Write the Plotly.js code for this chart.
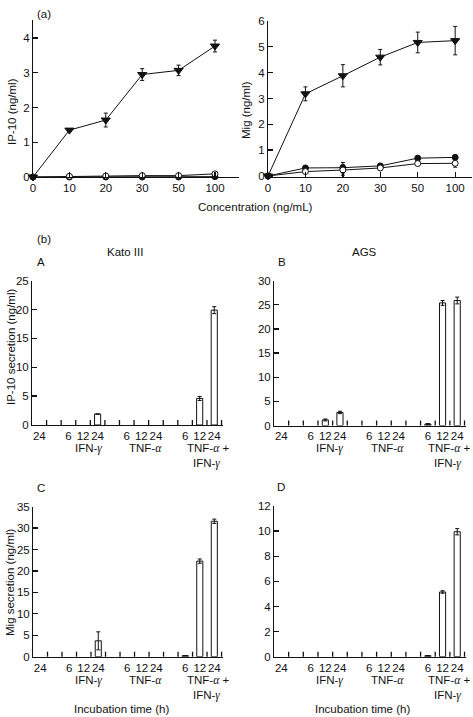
<!DOCTYPE html>
<html>
<head>
<meta charset="utf-8">
<script src="https://cdn.plot.ly/plotly-3.0.1.min.js"></script>
<style>
html,body{margin:0;padding:0;background:#fff;}
#chart{width:473px;height:717px;}
</style>
</head>
<body>
<div id="chart"></div>
<script>
// ---------- DATA ----------
// Panel (a): concentration series
const concLabels = ['0', '10', '20', '30', '50', '100'];
const ip10Tri = [0, 1.35, 1.64, 2.95, 3.07, 3.77];
const ip10TriErr = [0, 0.04, 0.2, 0.17, 0.15, 0.17];
const ip10Open = [0, 0.02, 0.03, 0.04, 0.04, 0.09];
const ip10Filled = [0, 0, 0, 0, 0, 0.01];
const migTri = [0, 3.18, 3.88, 4.6, 5.17, 5.24];
const migTriErr = [0, 0.27, 0.43, 0.3, 0.4, 0.55];
const migFilled = [0, 0.31, 0.32, 0.39, 0.69, 0.72];
const migFilledErr = [0, 0.05, 0.2, 0.05, 0.08, 0.08];
const migOpen = [0, 0.17, 0.23, 0.31, 0.48, 0.49];
const migOpenErr = [0, 0.05, 0.2, 0.05, 0.05, 0.15];

// Panel (b): incubation time bars
const groupNames = ['', 'IFN-γ', 'TNF-α', 'TNF-α + IFN-γ'];
const groupTimes = [['24'], ['6', '12', '24'], ['6', '12', '24'], ['6', '12', '24']];
const kato_ip10 = [0, 0, 0, 1.9, 0, 0, 0, 0, 4.6, 19.9];
const kato_ip10Err = [0, 0, 0, 0, 0, 0, 0, 0, 0.35, 0.6];
const ags_ip10 = [0, 0, 1.15, 2.7, 0, 0, 0, 0.3, 25.4, 25.9];
const ags_ip10Err = [0, 0, 0.2, 0.25, 0, 0, 0, 0.1, 0.5, 0.7];
const kato_mig = [0, 0, 0, 3.7, 0, 0, 0, 0.25, 22.3, 31.6];
const kato_migErr = [0, 0, 0, 2.1, 0, 0, 0, 0, 0.5, 0.5];
const ags_mig = [0, 0, 0, 0, 0, 0, 0, 0.08, 5.15, 9.95];
const ags_migErr = [0, 0, 0, 0, 0, 0, 0, 0, 0.1, 0.25];

// ---------- BUILD ----------
const W = 473, H = 717;
const INK = '#111';
const FONT = 'Liberation Sans, Arial, sans-serif';
const FS = 11.5;
const TL = 5;

const concX = concLabels.map((_, i) => i);

// slot positions: groups separated by one empty slot
const slotX = [], slotText = [];
let pos = 0;
groupTimes.forEach((times) => {
  times.forEach(t => { slotX.push(pos); slotText.push(t); pos++; });
  pos++;
});
const lastSlot = pos - 2;
const dividerX = [];
for (let v = 0.5; v <= lastSlot + 0.5; v += 1) dividerX.push(v);

function lineTrace(y, err, xa, ya, symbol, fill, size) {
  return {
    type: 'scatter', mode: 'lines+markers', x: concX, y: y,
    xaxis: xa, yaxis: ya, cliponaxis: false,
    line: {color: INK, width: 1},
    marker: {symbol: symbol, size: size, color: fill, line: {color: INK, width: 1}},
    error_y: err ? {type: 'data', array: err, visible: true, color: INK, thickness: 1, width: 2} : {visible: false},
    showlegend: false
  };
}
function barTrace(y, err, xa, ya) {
  return {
    type: 'bar', x: slotX, y: y.map(v => v === 0 ? null : v), xaxis: xa, yaxis: ya, width: 0.42,
    marker: {color: '#fff', line: {color: INK, width: 1}},
    error_y: {type: 'data', array: err, visible: true, color: INK, thickness: 1, width: 2},
    showlegend: false
  };
}

const traces = [
  lineTrace(ip10Filled, null, 'x', 'y', 'circle', INK, 6),
  lineTrace(ip10Open, null, 'x', 'y', 'circle', '#fff', 6),
  lineTrace(ip10Tri, ip10TriErr, 'x', 'y', 'triangle-down', INK, 8),
  lineTrace(migFilled, migFilledErr, 'x2', 'y2', 'circle', INK, 6),
  lineTrace(migOpen, migOpenErr, 'x2', 'y2', 'circle', '#fff', 6),
  lineTrace(migTri, migTriErr, 'x2', 'y2', 'triangle-down', INK, 8),
  barTrace(kato_ip10, kato_ip10Err, 'x3', 'y3'),
  barTrace(ags_ip10, ags_ip10Err, 'x4', 'y4'),
  barTrace(kato_mig, kato_migErr, 'x5', 'y5'),
  barTrace(ags_mig, ags_migErr, 'x6', 'y6')
];

function dx(a, b) { return [a / W, b / W]; }
function dy(top, bottom) { return [1 - bottom / H, 1 - top / H]; }

const baseAxis = {
  showline: true, linecolor: INK, linewidth: 1, mirror: false,
  ticks: 'inside', ticklen: TL, tickwidth: 1.3, tickcolor: INK, tickangle: 0,
  showgrid: false, zeroline: false, fixedrange: true, layer: 'above traces',
  tickfont: {family: FONT, size: FS, color: INK}
};
function ax(extra) { return Object.assign({}, baseAxis, extra); }

function barX(domain, anchor) {
  return ax({
    domain: domain, anchor: anchor, range: [-0.5, 12.6],
    tickmode: 'array', tickvals: slotX, ticktext: slotText, ticks: ''
  });
}

const layout = {
  width: W, height: H, margin: {l: 0, r: 0, t: 0, b: 0},
  paper_bgcolor: '#fff', plot_bgcolor: '#fff',
  font: {family: FONT, size: FS, color: INK},
  bargap: 0,
  xaxis: ax({domain: dx(33, 239), anchor: 'y', range: [0, 5.66], tickmode: 'array', tickvals: concX, ticktext: concLabels}),
  yaxis: ax({domain: dy(20, 177), anchor: 'x', range: [0, 4.52], tickmode: 'array', tickvals: [0, 1, 2, 3, 4]}),
  xaxis2: ax({domain: dx(268, 472), anchor: 'y2', range: [0, 5.45], tickmode: 'array', tickvals: concX, ticktext: concLabels}),
  yaxis2: ax({domain: dy(21, 177), anchor: 'x2', range: [-0.04, 6], tickmode: 'array', tickvals: [0, 1, 2, 3, 4, 5, 6]}),
  xaxis3: barX(dx(32, 223), 'y3'),
  yaxis3: ax({domain: dy(280.7, 425), anchor: 'x3', range: [0, 25], tickmode: 'linear', tick0: 0, dtick: 5}),
  xaxis4: barX(dx(274, 466), 'y4'),
  yaxis4: ax({domain: dy(280.7, 425.5), anchor: 'x4', range: [0, 30], tickmode: 'linear', tick0: 0, dtick: 5}),
  xaxis5: barX(dx(33, 223), 'y5'),
  yaxis5: ax({domain: dy(506.7, 656.7), anchor: 'x5', range: [0, 35], tickmode: 'linear', tick0: 0, dtick: 5}),
  xaxis6: barX(dx(274, 466), 'y6'),
  yaxis6: ax({domain: dy(506, 656.7), anchor: 'x6', range: [0, 12], tickmode: 'linear', tick0: 0, dtick: 2}),
  annotations: [],
  shapes: []
};

// divider tick marks between the bar slots (axis decoration)
[['x3', 'y3', 144.3], ['x4', 'y4', 144.8], ['x5', 'y5', 150], ['x6', 'y6', 150.7]].forEach(([xa, ya, hpx]) => {
  dividerX.forEach(v => {
    layout.shapes.push({
      type: 'line', xref: xa, yref: ya + ' domain', x0: v, x1: v, y0: 0, y1: TL / hpx,
      line: {color: INK, width: 1.3}, layer: 'above'
    });
  });
});

function greek(s) {
  return s.replace(/([αγ])/g, '<span style="font-family:\'Liberation Serif\',serif;font-style:italic">$1</span>');
}
function note(text, x, y, opts) {
  layout.annotations.push(Object.assign({
    text: text, x: x / W, y: 1 - y / H, xref: 'paper', yref: 'paper',
    showarrow: false, xanchor: 'center', yanchor: 'middle',
    font: {family: FONT, size: FS, color: INK}
  }, opts || {}));
}

note('(a)', 35, 14, {xanchor: 'left'});
note('Concentration (ng/mL)', 255, 207);
note('IP-10 (ng/ml)', 12, 112, {textangle: -90});
note('Mig (ng/ml)', 246, 110, {textangle: -90});
note('(b)', 35, 239, {xanchor: 'left'});
note('Kato III', 125, 252);
note('AGS', 364, 252);
note('A', 35, 262, {xanchor: 'left'});
note('B', 276, 262, {xanchor: 'left'});
note('C', 35, 488, {xanchor: 'left'});
note('D', 275, 487, {xanchor: 'left'});
note('IP-10 secretion (ng/ml)', 11, 347, {textangle: -90});
note('Mig secretion (ng/ml)', 10, 582, {textangle: -90});

// group labels under bar panels
const groupLabelX = {left: [88, 145, 206], right: [329.5, 387, 447]};
[[448, 'left'], [448, 'right'], [680, 'left'], [680, 'right']].forEach(([y0, side]) => {
  groupNames.slice(1).forEach((g, i) => {
    const parts = g.split(' + ');
    if (parts.length === 2) {
      note(greek(parts[0] + ' +'), groupLabelX[side][i] + 2, y0);
      note(greek(parts[1]), groupLabelX[side][i], y0 + 15);
    } else {
      note(greek(g), groupLabelX[side][i], y0);
    }
  });
});
note('Incubation time (h)', 121, 709);
note('Incubation time (h)', 362, 709);

Plotly.newPlot('chart', traces, layout, {staticPlot: true, displayModeBar: false});
</script>
</body>
</html>
